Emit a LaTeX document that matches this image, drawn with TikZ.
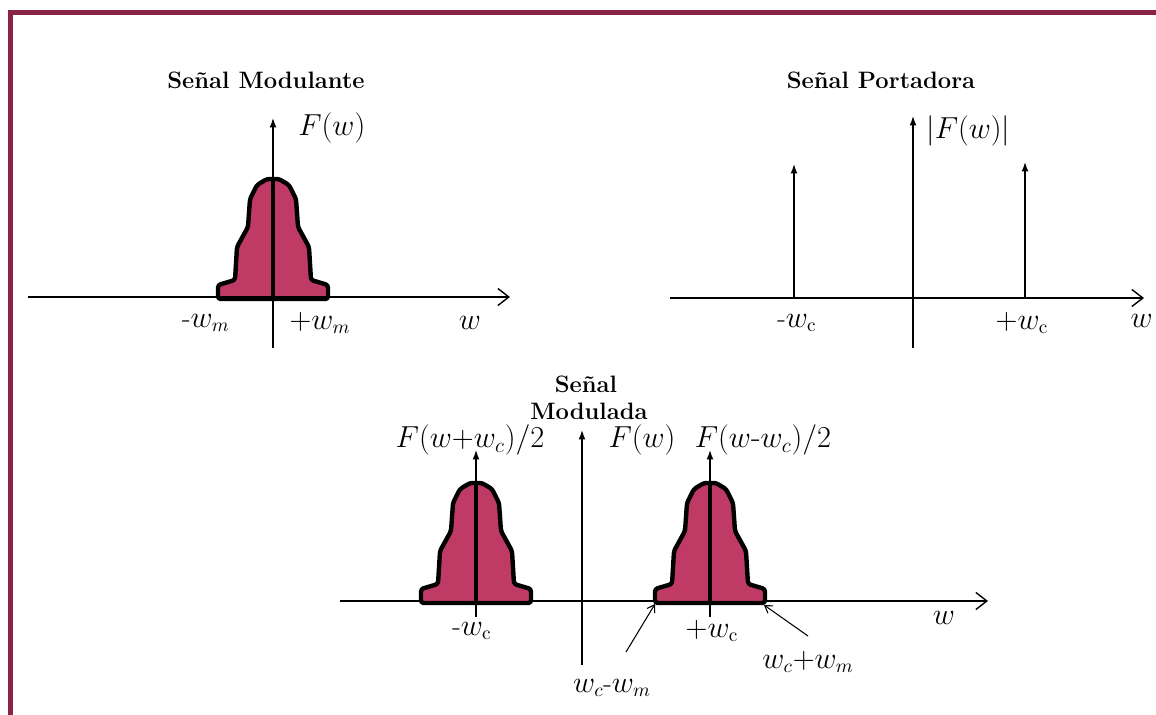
\documentclass[tikz,border=0pt]{standalone}
\usepackage{amsmath}
\usepackage{xcolor}
\usepackage{tikz}
\usetikzlibrary{arrows.meta}
\definecolor{marco}{HTML}{8A2447}
\definecolor{rosado}{HTML}{BF3B66}

% lobulo del espectro: centro x, base y
\newcommand{\espectro}[2]{%
  \begin{scope}[shift={(#1,#2)}]
    \filldraw[banda] (-55,0) -- (-55,-14) -- (-38,-19) -- (-36,-52) -- (-25,-72)
      -- (-23,-100) -- (-16,-114) -- (-6,-120) -- (6,-120) -- (16,-114)
      -- (23,-100) -- (25,-72) -- (36,-52) -- (38,-19) -- (55,-14) -- (55,0) -- cycle;
    \draw[line width=2.5pt] (0,0) -- (0,-120);
  \end{scope}}

\begin{document}
\begin{tikzpicture}[x=0.02cm, y=-0.02cm,
    banda/.style={draw=black, fill=rosado, line width=2.5pt, rounded corners=1.5pt, line join=round},
    eje/.style={line width=0.8pt, -{Straight Barb[length=2.2mm,width=3.4mm]}},
    ejev/.style={line width=0.8pt, -{Latex[length=1.9mm,width=1.4mm]}},
    puntero/.style={line width=0.6pt, -{Straight Barb[length=1.4mm,width=1.8mm]}},
    titulo/.style={font=\fontsize{13.5}{15}\selectfont\bfseries, align=center, inner sep=0pt},
    etiq/.style={font=\fontsize{16}{18}\selectfont, inner sep=0pt},
    funcion/.style={font=\fontsize{18}{20}\selectfont, inner sep=0pt}]
\useasboundingbox[fill=white] (0,0) rectangle (1156,715);
% marco
\draw[marco, line width=2.9pt] (10.5,715) -- (10.5,12.5) -- (1156,12.5);

% Senal modulante
\node[titulo] (tmod) at (266,80) {Señal\ Modulante};
\coordinate (a-izq) at (28,297);
\coordinate (a-der) at (510,297);
\coordinate (a-bajo) at (273,348);
\coordinate (a-alto) at (273,118);
\espectro{273}{299}
\draw[eje] (a-izq) -- (a-der);
\draw[ejev] (a-bajo) -- (a-alto);
\node[funcion, anchor=west] (fa) at (298,128) {$F(w)$};
\node[etiq] (wm1) at (206,323) {$\text{-}w_m$};
\node[etiq] (wm2) at (320,323) {$+w_m$};
\node[etiq] (wa) at (470,323) {$w$};

% Senal portadora
\node[titulo] (tpor) at (881,80) {Señal Portadora};
\coordinate (b-izq) at (670,298);
\coordinate (b-der) at (1144,298);
\coordinate (b-bajo) at (913,348);
\coordinate (b-alto) at (913,116);
\coordinate (c-neg) at (794,298);
\coordinate (c-negt) at (794,164);
\coordinate (c-pos) at (1025,298);
\coordinate (c-post) at (1025,162);
\draw[eje] (b-izq) -- (b-der);
\draw[ejev] (b-bajo) -- (b-alto);
\draw[ejev] (c-neg) -- (c-negt);
\draw[ejev] (c-pos) -- (c-post);
\node[funcion, anchor=west] (fb) at (926,131) {$|F(w)|$};
\node[etiq] (wc1) at (797,323) {$\text{-}w_{\mathrm{c}}$};
\node[etiq] (wc2) at (1022,323) {$+w_{\mathrm{c}}$};
\node[etiq, anchor=east] (wb) at (1153,321) {$w$};

% Senal modulada
\node[titulo] (tmd1) at (586,384) {Señal};
\node[titulo] (tmd2) at (589,411) {Modulada};
\coordinate (m-izq) at (340,601);
\coordinate (m-der) at (988,601);
\coordinate (m-bajo) at (582,665);
\coordinate (m-alto) at (582,430);
\coordinate (l-bajo) at (476,617);
\coordinate (l-pico) at (476,485);
\coordinate (l-alto) at (476,450);
\coordinate (r-bajo) at (710,617);
\coordinate (r-pico) at (710,485);
\coordinate (r-alto) at (710,450);
\draw[eje] (m-izq) -- (m-der);
\draw[ejev] (m-bajo) -- (m-alto);
\draw[line width=0.8pt] (l-bajo) -- (l-pico);
\draw[line width=0.8pt] (r-bajo) -- (r-pico);
\espectro{476}{603}
\espectro{710}{603}
\draw[ejev] (l-pico) -- (l-alto);
\draw[ejev] (r-pico) -- (r-alto);
\node[funcion] (fl) at (470,440) {$F(w{+}w_c)/2$};
\node[funcion] (fc) at (642,440) {$F(w)$};
\node[funcion] (fr) at (763,440) {$F(w\text{-}w_c)/2$};
\node[etiq] (wc3) at (472,631) {$\text{-}w_{\mathrm{c}}$};
\node[etiq] (wc4) at (712,631) {$+w_{\mathrm{c}}$};
\node[etiq] (wm) at (944,618) {$w$};
\node[etiq] (wdif) at (612,688) {$w_c\text{-}w_m$};
\node[etiq] (wsum) at (808,662) {$w_c{+}w_m$};
\coordinate (esq-izq) at (655,604);
\coordinate (esq-der) at (764,605);
\draw[puntero] (626,652) -- (esq-izq);
\draw[puntero] (808,636) -- (esq-der);
\end{tikzpicture}
\end{document}
